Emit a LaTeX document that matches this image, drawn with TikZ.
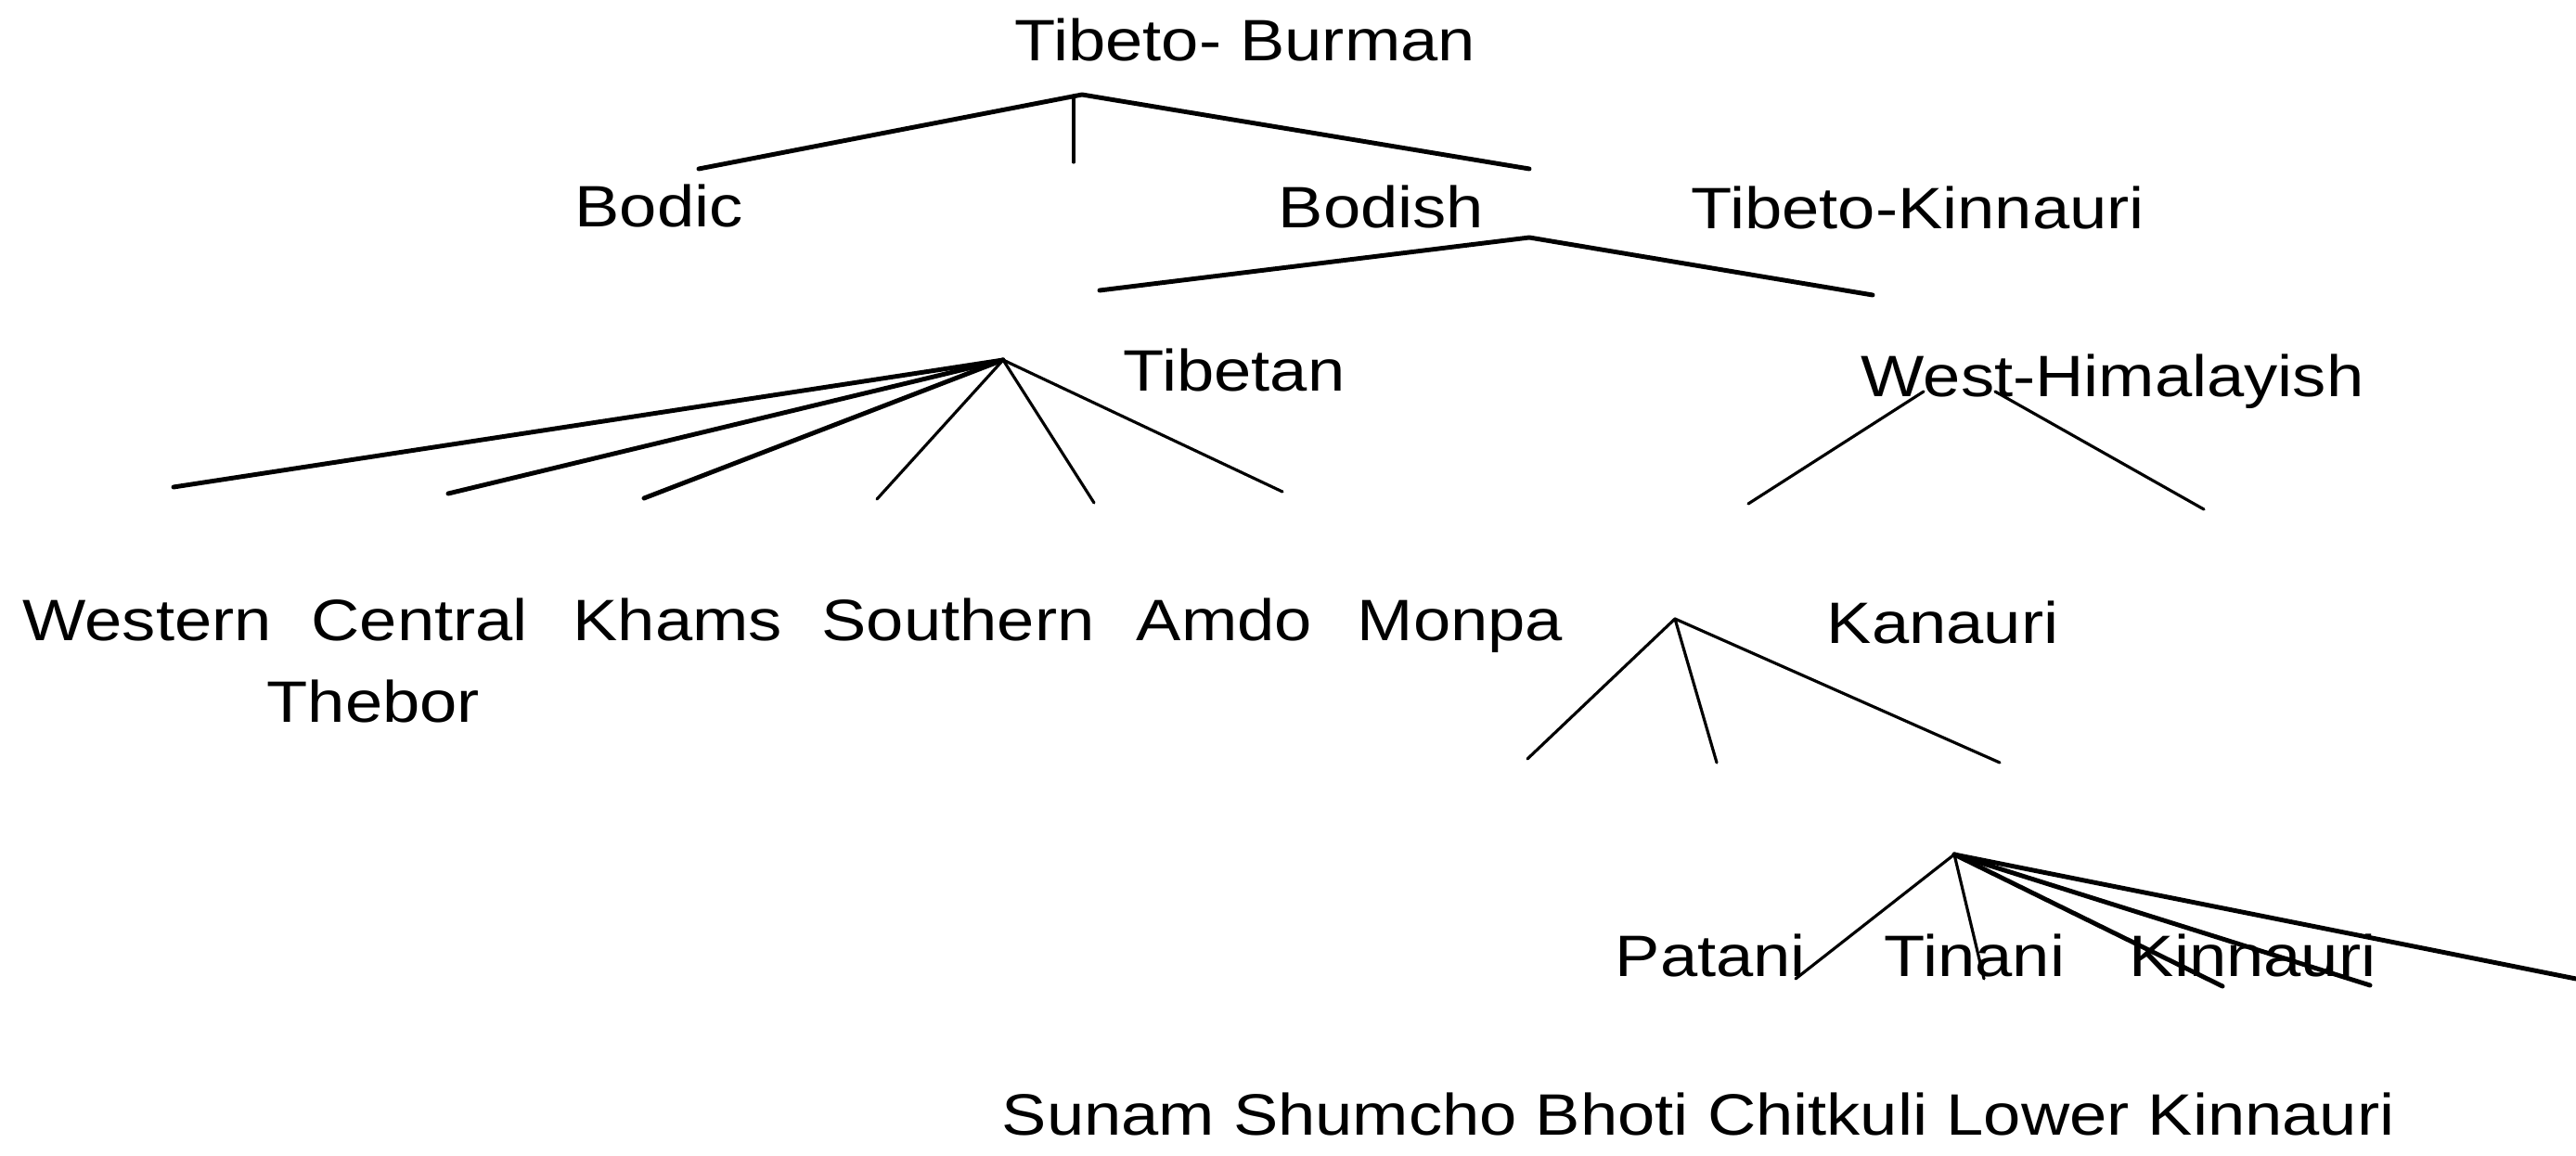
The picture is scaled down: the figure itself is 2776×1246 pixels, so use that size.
\documentclass[tikz,border=0pt]{standalone}
\usepackage{fontspec}
\setmainfont{Liberation Sans}[FakeStretch=1.15]
\begin{document}
\begin{tikzpicture}[x=0.01cm,y=-0.01cm,
  lbl/.style={anchor=base west,inner sep=0pt,font=\fontsize{17.9}{21}\selectfont},
  thickline/.style={line width=1.4pt,line cap=round,line join=round},
  thinline/.style={line width=0.9pt,line cap=round,line join=round}]
\useasboundingbox[fill=white] (0,0) rectangle (2776,1246);

% labels
\node[lbl] (tb) at (1093,66) {Tibeto- Burman};
\node[lbl] (bodic) at (619,245) {Bodic};
\node[lbl] (bodish) at (1377,246) {Bodish};
\node[lbl] (tk) at (1822,247) {Tibeto-Kinnauri};
\node[lbl] (tibetan) at (1210,422) {Tibetan};
\node[lbl] (wh) at (2005,427) {West-Himalayish};
\node[lbl] (western) at (24,690) {Western};
\node[lbl] (central) at (335,690) {Central};
\node[lbl] (khams) at (617,690) {Khams};
\node[lbl] (southern) at (885,690) {Southern};
\node[lbl] (amdo) at (1224,690) {Amdo};
\node[lbl] (monpa) at (1462,690) {Monpa};
\node[lbl] (thebor) at (287,778) {Thebor};
\node[lbl] (kanauri) at (1968,693) {Kanauri};
\node[lbl] (patani) at (1740,1052) {Patani};
\node[lbl] (tinani) at (2030,1052) {Tinani};
\node[lbl] (kinnauri) at (2294,1052) {Kinnauri};
\node[lbl] (bottom) at (1079,1223) {Sunam Shumcho Bhoti Chitkuli Lower Kinnauri};

% coordinates
\coordinate (tbA) at (1166,102);
\coordinate (tbL) at (753,182);
\coordinate (tbR) at (1648,182);
\coordinate (tbV1) at (1157,103);
\coordinate (tbV2) at (1157,175);

\coordinate (bdA1) at (1648,256);
\coordinate (bdA2) at (1660,258);
\coordinate (bdL) at (1185,313);
\coordinate (bdR) at (2018,318);

\coordinate (tiA) at (1081,388);
\coordinate (ti1) at (187,525);
\coordinate (ti2) at (483,532);
\coordinate (ti3) at (694,537);
\coordinate (ti4) at (945,538);
\coordinate (ti5) at (1179,542);
\coordinate (ti6) at (1382,530);

\coordinate (whA1) at (2073,422);
\coordinate (whL) at (1884,543);
\coordinate (whA2) at (2150,422);
\coordinate (whR) at (2375,549);

\coordinate (kaA) at (1805,667);
\coordinate (ka1) at (1646,818);
\coordinate (ka2) at (1850,822);
\coordinate (ka3) at (2155,822);

\coordinate (kiA) at (2106,921);
\coordinate (ki1) at (1935,1055);
\coordinate (ki2) at (2138,1055);
\coordinate (ki3) at (2395,1063);
\coordinate (ki4) at (2554,1062);
\coordinate (ki5) at (2776,1055);

% connectors
\draw[thickline] (tbL) -- (tbA) -- (tbR);
\draw[thinline] (tbV1) -- (tbV2);
\draw[thickline] (bdL) -- (bdA1) -- (bdA2) -- (bdR);
\draw[thickline] (tiA) -- (ti1);
\draw[thickline] (tiA) -- (ti2);
\draw[thickline] (tiA) -- (ti3);
\draw[thinline] (tiA) -- (ti4);
\draw[thinline] (tiA) -- (ti5);
\draw[thinline] (tiA) -- (ti6);
\draw[thinline] (whA1) -- (whL);
\draw[thinline] (whA2) -- (whR);
\draw[thinline] (kaA) -- (ka1);
\draw[thinline] (kaA) -- (ka2);
\draw[thinline] (kaA) -- (ka3);
\draw[thinline] (kiA) -- (ki1);
\draw[thinline] (kiA) -- (ki2);
\draw[thickline] (kiA) -- (ki3);
\draw[thickline] (kiA) -- (ki4);
\draw[thickline] (kiA) -- (ki5);
\end{tikzpicture}
\end{document}
